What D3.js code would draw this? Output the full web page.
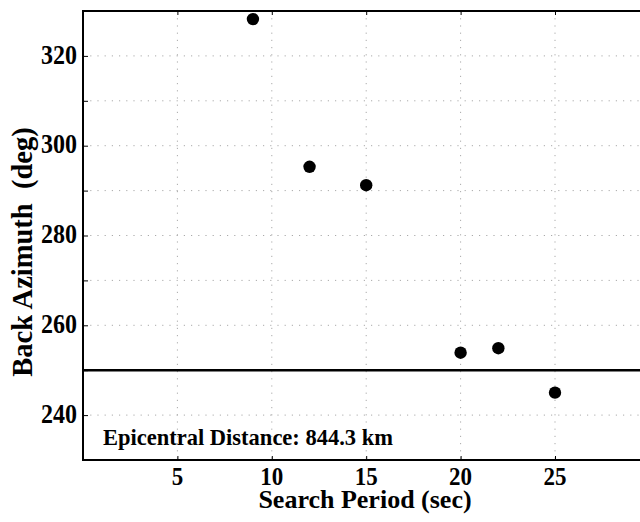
<!DOCTYPE html>
<html>
<head>
<meta charset="utf-8">
<script src="https://cdn.jsdelivr.net/npm/d3@7"></script>
<style>
  body { margin: 0; background: #fff; }
  text { font-family: "Liberation Serif", "Times New Roman", serif; font-weight: bold; fill: #000; }
</style>
</head>
<body>
<div id="chart"></div>
<script>
// data
const periods = [9, 12, 15, 20, 22, 25];
const azimuths = [328.2, 295.3, 291.2, 253.9, 254.9, 245.0];
const xTicks = [5, 10, 15, 20, 25];
const yTicks = [240, 260, 280, 300, 320];
const yGrid = [240, 250, 260, 270, 280, 290, 300, 310, 320];
const refAzimuth = 250;
const distanceLabel = "Epicentral Distance: 844.3 km";

const width = 640;
const height = 522;
const plotLeft = 83, plotTop = 11, plotBottom = 460;

const x = d3.scaleLinear().domain([0, 30]).range([plotLeft, plotLeft + 566.4]);
const y = d3.scaleLinear().domain([230, 330]).range([plotBottom, plotTop]);

const svg = d3.select("#chart").append("svg")
  .attr("width", width)
  .attr("height", height);

// grid
svg.append("g")
  .selectAll("line")
  .data(xTicks)
  .join("line")
  .attr("x1", d => x(d)).attr("x2", d => x(d))
  .attr("y1", plotTop).attr("y2", plotBottom)
  .attr("stroke", "#aaa")
  .attr("stroke-width", 1)
  .attr("stroke-dasharray", "1.2 6");

svg.append("g")
  .selectAll("line")
  .data(yGrid)
  .join("line")
  .attr("x1", plotLeft).attr("x2", x(30))
  .attr("y1", d => y(d)).attr("y2", d => y(d))
  .attr("stroke", "#aaa")
  .attr("stroke-width", 1)
  .attr("stroke-dasharray", "1.2 6");

// inward ticks
svg.append("g")
  .attr("transform", `translate(0,${plotBottom})`)
  .call(d3.axisBottom(x).tickValues(xTicks).tickSize(-4).tickFormat(""))
  .call(g => g.select(".domain").remove());
svg.append("g")
  .attr("transform", `translate(0,${plotTop})`)
  .call(d3.axisTop(x).tickValues(xTicks).tickSize(-4).tickFormat(""))
  .call(g => g.select(".domain").remove());
svg.append("g")
  .attr("transform", `translate(${plotLeft},0)`)
  .call(d3.axisLeft(y).tickValues(yGrid).tickSize(-5).tickFormat(""))
  .call(g => g.select(".domain").remove());

// tick labels (slightly tall, like the reference)
svg.append("g")
  .selectAll("text")
  .data(xTicks)
  .join("text")
  .attr("transform", d => `translate(${x(d)},485) scale(1,1.1)`)
  .attr("text-anchor", "middle")
  .style("font-size", "23px")
  .text(d => d);

svg.append("g")
  .selectAll("text")
  .data(yTicks)
  .join("text")
  .attr("transform", d => `translate(77,${y(d) + 7.7}) scale(1,1.13)`)
  .attr("text-anchor", "end")
  .style("font-size", "24px")
  .text(d => d);

// reference line
svg.append("line")
  .attr("x1", plotLeft).attr("x2", x(30))
  .attr("y1", y(refAzimuth)).attr("y2", y(refAzimuth))
  .attr("stroke", "#000")
  .attr("stroke-width", 2.5);

// points
svg.append("g")
  .selectAll("circle")
  .data(periods)
  .join("circle")
  .attr("cx", d => x(d))
  .attr("cy", (d, i) => y(azimuths[i]))
  .attr("r", 6.2)
  .attr("fill", "#000");

// frame (right side falls outside the window)
svg.append("path")
  .attr("d", `M${x(30)},${plotTop}H${plotLeft}V${plotBottom}H${x(30)}`)
  .attr("fill", "none")
  .attr("stroke", "#000")
  .attr("stroke-width", 2);

svg.append("text")
  .attr("x", 103)
  .attr("y", 445)
  .style("font-size", "22.5px")
  .text(distanceLabel);

svg.append("text")
  .attr("x", 365)
  .attr("y", 508)
  .attr("text-anchor", "middle")
  .style("font-size", "26px")
  .text("Search Period (sec)");

svg.append("text")
  .attr("transform", `translate(32,252) rotate(-90)`)
  .attr("text-anchor", "middle")
  .style("font-size", "28.5px")
  .style("white-space", "pre")
  .text("Back Azimuth  (deg)");
</script>
</body>
</html>
